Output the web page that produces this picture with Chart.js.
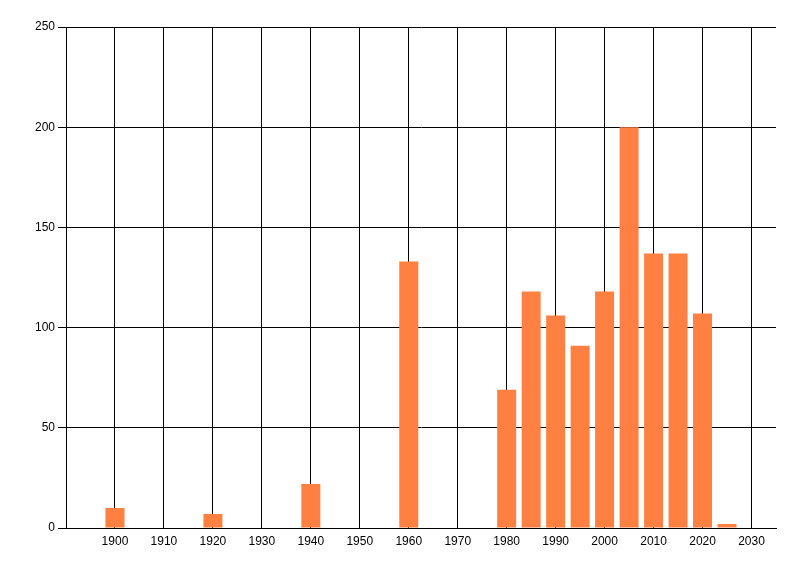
<!DOCTYPE html>
<html>
<head>
<meta charset="utf-8">
<script src="https://cdn.jsdelivr.net/npm/chart.js@4.4.0/dist/chart.umd.min.js"></script>
<style>
  html, body { margin: 0; padding: 0; background: #fff; }
  #wrap { width: 800px; height: 576px; }
</style>
</head>
<body>
<div id="wrap"><canvas id="barChart" width="800" height="576"></canvas></div>
<script>
/* chart values */
const years = [1900, 1920, 1940, 1960, 1980, 1985, 1990, 1995, 2000, 2005, 2010, 2015, 2020, 2025];
const counts = [10, 7, 22, 133, 69, 118, 106, 91, 118, 200, 137, 137, 107, 2];
const xTickLabels = [1900, 1910, 1920, 1930, 1940, 1950, 1960, 1970, 1980, 1990, 2000, 2010, 2020, 2030];
const yTickLabels = [0, 50, 100, 150, 200, 250];

Chart.defaults.font.family = "'Liberation Sans', Arial, sans-serif";
Chart.defaults.font.size = 12;
Chart.defaults.color = "#000";

const ctx = document.getElementById("barChart");

new Chart(ctx, {
  type: "bar",
  data: {
    datasets: [{
      data: years.map((x, i) => ({ x: x, y: counts[i] })),
      backgroundColor: "#ff8040",
      borderWidth: 0,
      categoryPercentage: 0.8,
      barPercentage: 0.97
    }]
  },
  options: {
    responsive: false,
    animation: false,
    devicePixelRatio: 1,
    layout: { padding: { top: 27, right: 24, left: 0, bottom: 0 } },
    plugins: {
      legend: { display: false },
      tooltip: { enabled: false }
    },
    scales: {
      x: {
        type: "linear",
        min: 1890,
        max: 2035,
        offset: false,
        afterBuildTicks: s => { s.ticks = xTickLabels.map(v => ({ value: v })); },
        afterFit: s => { s.height = 48; },
        ticks: {
          padding: 6,
          maxRotation: 0,
          autoSkip: false,
          callback: v => String(v)
        },
        grid: { color: "#000", drawTicks: false, offset: false },
        border: { color: "#000" }
      },
      y: {
        min: 0,
        max: 250,
        afterBuildTicks: s => { s.ticks = yTickLabels.map(v => ({ value: v })); },
        afterFit: s => { s.width = 66; },
        ticks: { padding: 3, callback: v => String(v) },
        grid: { color: "#000", tickLength: 8 },
        border: { color: "#000" }
      }
    }
  }
});
</script>
</body>
</html>
